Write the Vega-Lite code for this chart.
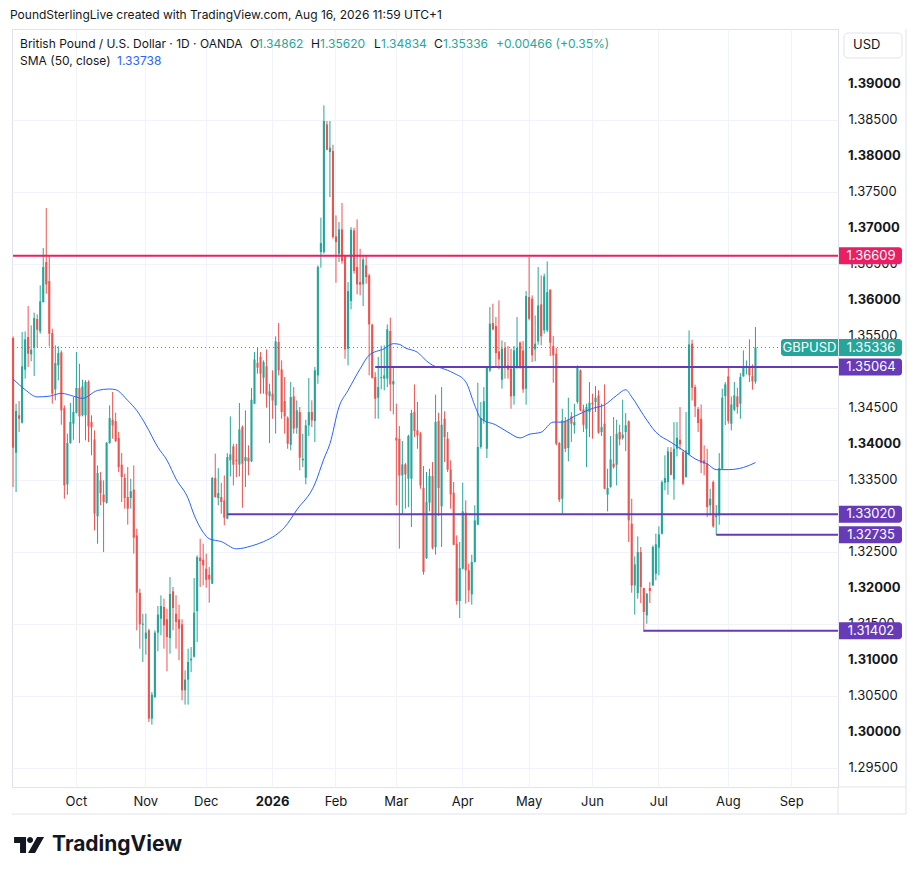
{
"$schema": "https://vega.github.io/schema/vega-lite/v6.json",
"width": 826,
"height": 758,
"padding": {"left": 10, "top": 8, "right": 5, "bottom": 5},
"background": "white",
"title": {"text": "PoundSterlingLive created with TradingView.com, Aug 16, 2026 11:59 UTC+1", "anchor": "start", "frame": "group", "fontSize": 12, "fontWeight": "normal", "color": "#131722", "offset": 7, "dx": -2},
"config": {"font": "Inter", "view": {"stroke": "#e0e3eb", "strokeWidth": 1}},
"datasets": {
"candles": [
{"date":"2025-09-02","open":1.35468,"high":1.35491,"low":1.33398,"close":1.33945,"sma":1.3490},
{"date":"2025-09-03","open":1.33875,"high":1.34556,"low":1.33329,"close":1.34454},
{"date":"2025-09-04","open":1.34394,"high":1.34593,"low":1.34162,"close":1.34347},
{"date":"2025-09-05","open":1.34292,"high":1.35551,"low":1.34280,"close":1.35074},
{"date":"2025-09-08","open":1.35028,"high":1.35560,"low":1.34903,"close":1.35449,"sma":1.3475},
{"date":"2025-09-09","open":1.35482,"high":1.35912,"low":1.35065,"close":1.35250},
{"date":"2025-09-10","open":1.35241,"high":1.35644,"low":1.35144,"close":1.35306},
{"date":"2025-09-11","open":1.35333,"high":1.35820,"low":1.34940,"close":1.35745},
{"date":"2025-09-12","open":1.35732,"high":1.35796,"low":1.35343,"close":1.35583,"sma":1.3465},
{"date":"2025-09-15","open":1.35560,"high":1.36199,"low":1.35528,"close":1.35977},
{"date":"2025-09-16","open":1.35968,"high":1.36718,"low":1.35960,"close":1.36454},
{"date":"2025-09-17","open":1.36523,"high":1.37273,"low":1.36083,"close":1.36213},
{"date":"2025-09-18","open":1.36259,"high":1.36607,"low":1.35352,"close":1.35528,"sma":1.3466},
{"date":"2025-09-19","open":1.35537,"high":1.35597,"low":1.34556,"close":1.34695},
{"date":"2025-09-22","open":1.34755,"high":1.35366,"low":1.34602,"close":1.35120},
{"date":"2025-09-23","open":1.35088,"high":1.35352,"low":1.34880,"close":1.35259},
{"date":"2025-09-24","open":1.35269,"high":1.35296,"low":1.34264,"close":1.34463,"sma":1.3470},
{"date":"2025-09-25","open":1.34495,"high":1.34532,"low":1.33236,"close":1.33421},
{"date":"2025-09-26","open":1.33435,"high":1.34139,"low":1.33292,"close":1.34009},
{"date":"2025-09-29","open":1.34009,"high":1.34565,"low":1.34000,"close":1.34301},
{"date":"2025-09-30","open":1.34278,"high":1.34648,"low":1.34056,"close":1.34440,"sma":1.3466},
{"date":"2025-10-01","open":1.34431,"high":1.35273,"low":1.34420,"close":1.34773},
{"date":"2025-10-02","open":1.34773,"high":1.35111,"low":1.34009,"close":1.34380},
{"date":"2025-10-03","open":1.34394,"high":1.34889,"low":1.34380,"close":1.34796,"sma":1.3463},
{"date":"2025-10-06","open":1.34394,"high":1.34880,"low":1.34046,"close":1.34857},
{"date":"2025-10-07","open":1.34857,"high":1.34880,"low":1.34023,"close":1.34241},
{"date":"2025-10-08","open":1.34301,"high":1.34394,"low":1.33838,"close":1.34231},
{"date":"2025-10-09","open":1.34060,"high":1.34185,"low":1.32796,"close":1.33028},
{"date":"2025-10-10","open":1.32991,"high":1.33699,"low":1.32611,"close":1.33593,"sma":1.3474},
{"date":"2025-10-13","open":1.33491,"high":1.33606,"low":1.33144,"close":1.33315},
{"date":"2025-10-14","open":1.33292,"high":1.33491,"low":1.32495,"close":1.33190},
{"date":"2025-10-15","open":1.33181,"high":1.34023,"low":1.33167,"close":1.34014},
{"date":"2025-10-16","open":1.34009,"high":1.34532,"low":1.34000,"close":1.34356,"sma":1.3476},
{"date":"2025-10-17","open":1.34333,"high":1.34718,"low":1.34069,"close":1.34255},
{"date":"2025-10-20","open":1.34315,"high":1.34431,"low":1.34024,"close":1.34038,"sma":1.3475},
{"date":"2025-10-21","open":1.34079,"high":1.34163,"low":1.33607,"close":1.33676},
{"date":"2025-10-22","open":1.33709,"high":1.33871,"low":1.33190,"close":1.33538},
{"date":"2025-10-23","open":1.33524,"high":1.33584,"low":1.33098,"close":1.33246},
{"date":"2025-10-24","open":1.33260,"high":1.33676,"low":1.32876,"close":1.33098,"sma":1.3460},
{"date":"2025-10-27","open":1.33246,"high":1.33514,"low":1.33098,"close":1.33338},
{"date":"2025-10-28","open":1.33362,"high":1.33699,"low":1.32473,"close":1.32695},
{"date":"2025-10-29","open":1.32727,"high":1.32820,"low":1.31408,"close":1.31931,"sma":1.3446},
{"date":"2025-10-30","open":1.31931,"high":1.31987,"low":1.31153,"close":1.31491},
{"date":"2025-10-31","open":1.31486,"high":1.31639,"low":1.30968,"close":1.31500},
{"date":"2025-11-03","open":1.31292,"high":1.31639,"low":1.31070,"close":1.31376,"sma":1.3426},
{"date":"2025-11-04","open":1.31408,"high":1.31431,"low":1.30135,"close":1.30181},
{"date":"2025-11-05","open":1.30181,"high":1.30551,"low":1.30098,"close":1.30514},
{"date":"2025-11-06","open":1.30482,"high":1.31408,"low":1.30468,"close":1.31376},
{"date":"2025-11-07","open":1.31376,"high":1.31746,"low":1.31116,"close":1.31626,"sma":1.3395},
{"date":"2025-11-10","open":1.31570,"high":1.31894,"low":1.31338,"close":1.31746},
{"date":"2025-11-11","open":1.31732,"high":1.31848,"low":1.31153,"close":1.31477},
{"date":"2025-11-12","open":1.31561,"high":1.31709,"low":1.30838,"close":1.31315,"sma":1.3377},
{"date":"2025-11-13","open":1.31301,"high":1.32149,"low":1.31084,"close":1.31913},
{"date":"2025-11-14","open":1.31950,"high":1.32010,"low":1.31408,"close":1.31718},
{"date":"2025-11-17","open":1.31639,"high":1.31894,"low":1.31153,"close":1.31524,"sma":1.3351},
{"date":"2025-11-18","open":1.31561,"high":1.31764,"low":1.30991,"close":1.31431},
{"date":"2025-11-19","open":1.31491,"high":1.31561,"low":1.30436,"close":1.30575},
{"date":"2025-11-20","open":1.30575,"high":1.30852,"low":1.30376,"close":1.30723},
{"date":"2025-11-21","open":1.30723,"high":1.31153,"low":1.30376,"close":1.30968,"sma":1.3324},
{"date":"2025-11-24","open":1.30991,"high":1.31176,"low":1.30829,"close":1.31014},
{"date":"2025-11-25","open":1.31042,"high":1.32135,"low":1.31030,"close":1.31653,"sma":1.3301},
{"date":"2025-11-26","open":1.31676,"high":1.32449,"low":1.31246,"close":1.32426},
{"date":"2025-11-27","open":1.32417,"high":1.32681,"low":1.32010,"close":1.32370},
{"date":"2025-11-28","open":1.32389,"high":1.32612,"low":1.32033,"close":1.32311,"sma":1.3277},
{"date":"2025-12-01","open":1.32264,"high":1.32473,"low":1.32000,"close":1.32110},
{"date":"2025-12-02","open":1.32181,"high":1.32287,"low":1.31792,"close":1.32116,"sma":1.3268},
{"date":"2025-12-03","open":1.32056,"high":1.33538,"low":1.32050,"close":1.33524},
{"date":"2025-12-04","open":1.33524,"high":1.33862,"low":1.33250,"close":1.33260},
{"date":"2025-12-05","open":1.33246,"high":1.33660,"low":1.33144,"close":1.33315},
{"date":"2025-12-08","open":1.33259,"high":1.33454,"low":1.33028,"close":1.33190,"sma":1.3264},
{"date":"2025-12-09","open":1.33213,"high":1.33560,"low":1.32866,"close":1.32972},
{"date":"2025-12-10","open":1.32958,"high":1.33870,"low":1.32950,"close":1.33815},
{"date":"2025-12-11","open":1.33769,"high":1.34380,"low":1.33546,"close":1.33852},
{"date":"2025-12-12","open":1.33963,"high":1.34000,"low":1.33421,"close":1.33709},
{"date":"2025-12-15","open":1.33778,"high":1.34000,"low":1.33537,"close":1.33760,"sma":1.3254},
{"date":"2025-12-16","open":1.33709,"high":1.34565,"low":1.33546,"close":1.34199},
{"date":"2025-12-17","open":1.34232,"high":1.34255,"low":1.33111,"close":1.33722},
{"date":"2025-12-18","open":1.33759,"high":1.34463,"low":1.33398,"close":1.33815},
{"date":"2025-12-19","open":1.33806,"high":1.33977,"low":1.33560,"close":1.33755},
{"date":"2025-12-22","open":1.33755,"high":1.34773,"low":1.33745,"close":1.34611,"sma":1.3258},
{"date":"2025-12-23","open":1.34556,"high":1.35273,"low":1.34550,"close":1.35171},
{"date":"2025-12-24","open":1.35125,"high":1.35343,"low":1.34972,"close":1.35056},
{"date":"2025-12-26","open":1.35204,"high":1.35273,"low":1.34695,"close":1.34972},
{"date":"2025-12-29","open":1.34917,"high":1.35157,"low":1.34695,"close":1.35134,"sma":1.3264},
{"date":"2025-12-30","open":1.35074,"high":1.35310,"low":1.34500,"close":1.34681},
{"date":"2025-12-31","open":1.34658,"high":1.34833,"low":1.34009,"close":1.34727},
{"date":"2026-01-02","open":1.34695,"high":1.35019,"low":1.34347,"close":1.34600},
{"date":"2026-01-05","open":1.34533,"high":1.35490,"low":1.34139,"close":1.35421,"sma":1.3273},
{"date":"2026-01-06","open":1.35412,"high":1.35676,"low":1.34949,"close":1.35019},
{"date":"2026-01-07","open":1.35032,"high":1.35158,"low":1.34347,"close":1.34440},
{"date":"2026-01-08","open":1.34593,"high":1.34926,"low":1.34139,"close":1.34380,"sma":1.3284},
{"date":"2026-01-09","open":1.34361,"high":1.34380,"low":1.33930,"close":1.34000},
{"date":"2026-01-12","open":1.33986,"high":1.34857,"low":1.33908,"close":1.34648},
{"date":"2026-01-13","open":1.34658,"high":1.34787,"low":1.34139,"close":1.34209},
{"date":"2026-01-14","open":1.34222,"high":1.34602,"low":1.34139,"close":1.34463,"sma":1.3308},
{"date":"2026-01-15","open":1.34440,"high":1.34509,"low":1.33630,"close":1.33806},
{"date":"2026-01-16","open":1.33769,"high":1.34139,"low":1.33676,"close":1.33792},
{"date":"2026-01-19","open":1.33528,"high":1.34333,"low":1.33435,"close":1.34255},
{"date":"2026-01-20","open":1.34255,"high":1.34912,"low":1.34107,"close":1.34440},
{"date":"2026-01-21","open":1.34440,"high":1.34602,"low":1.34232,"close":1.34324},
{"date":"2026-01-22","open":1.34315,"high":1.35065,"low":1.34023,"close":1.35019,"sma":1.3344},
{"date":"2026-01-23","open":1.34949,"high":1.36477,"low":1.34833,"close":1.36454},
{"date":"2026-01-26","open":1.36662,"high":1.37139,"low":1.36445,"close":1.36787},
{"date":"2026-01-27","open":1.36662,"high":1.38699,"low":1.36639,"close":1.38482,"sma":1.3379},
{"date":"2026-01-28","open":1.38435,"high":1.38482,"low":1.38074,"close":1.38084},
{"date":"2026-01-29","open":1.38051,"high":1.38482,"low":1.37426,"close":1.38111,"sma":1.3400},
{"date":"2026-01-30","open":1.38065,"high":1.38153,"low":1.36847,"close":1.36871},
{"date":"2026-02-02","open":1.36880,"high":1.37171,"low":1.36236,"close":1.36801},
{"date":"2026-02-03","open":1.36639,"high":1.37080,"low":1.36523,"close":1.36977,"sma":1.3451},
{"date":"2026-02-04","open":1.36977,"high":1.37343,"low":1.36500,"close":1.36537},
{"date":"2026-02-05","open":1.36602,"high":1.36616,"low":1.35181,"close":1.35310},
{"date":"2026-02-06","open":1.35320,"high":1.36245,"low":1.35088,"close":1.36120,"sma":1.3474},
{"date":"2026-02-09","open":1.35982,"high":1.37009,"low":1.35866,"close":1.36972},
{"date":"2026-02-10","open":1.36963,"high":1.37000,"low":1.36361,"close":1.36398},
{"date":"2026-02-11","open":1.36454,"high":1.37116,"low":1.36074,"close":1.36213},
{"date":"2026-02-12","open":1.36245,"high":1.36708,"low":1.36060,"close":1.36208,"sma":1.3504},
{"date":"2026-02-13","open":1.36213,"high":1.36602,"low":1.35912,"close":1.36560},
{"date":"2026-02-16","open":1.36477,"high":1.36602,"low":1.36222,"close":1.36315},
{"date":"2026-02-17","open":1.36338,"high":1.36361,"low":1.34949,"close":1.35657,"sma":1.3523},
{"date":"2026-02-18","open":1.35653,"high":1.35667,"low":1.34903,"close":1.34917},
{"date":"2026-02-19","open":1.34926,"high":1.34995,"low":1.34347,"close":1.34625},
{"date":"2026-02-20","open":1.34639,"high":1.35204,"low":1.34347,"close":1.34787},
{"date":"2026-02-23","open":1.34912,"high":1.35361,"low":1.34755,"close":1.34926},
{"date":"2026-02-24","open":1.34903,"high":1.35366,"low":1.34741,"close":1.34949,"sma":1.3532},
{"date":"2026-02-25","open":1.34903,"high":1.35657,"low":1.34787,"close":1.35588},
{"date":"2026-02-26","open":1.35565,"high":1.35750,"low":1.34454,"close":1.34824},
{"date":"2026-02-27","open":1.34824,"high":1.35065,"low":1.34407,"close":1.34870,"sma":1.3539},
{"date":"2026-03-02","open":1.34083,"high":1.34556,"low":1.33144,"close":1.34046},
{"date":"2026-03-03","open":1.34069,"high":1.34245,"low":1.32542,"close":1.33560,"sma":1.3538},
{"date":"2026-03-04","open":1.33560,"high":1.34037,"low":1.33028,"close":1.33713},
{"date":"2026-03-05","open":1.33713,"high":1.33731,"low":1.33097,"close":1.33574,"sma":1.3533},
{"date":"2026-03-06","open":1.33514,"high":1.34125,"low":1.33120,"close":1.34107},
{"date":"2026-03-09","open":1.33514,"high":1.34472,"low":1.32843,"close":1.34426},
{"date":"2026-03-10","open":1.34440,"high":1.34824,"low":1.34093,"close":1.34176},
{"date":"2026-03-11","open":1.34185,"high":1.34579,"low":1.33930,"close":1.34116,"sma":1.3527},
{"date":"2026-03-12","open":1.34139,"high":1.34162,"low":1.33375,"close":1.33421},
{"date":"2026-03-13","open":1.33384,"high":1.33690,"low":1.32181,"close":1.32218},
{"date":"2026-03-16","open":1.32412,"high":1.33607,"low":1.32400,"close":1.33190,"sma":1.3515},
{"date":"2026-03-17","open":1.33181,"high":1.33653,"low":1.33060,"close":1.33551},
{"date":"2026-03-18","open":1.33551,"high":1.33745,"low":1.32532,"close":1.32556,"sma":1.3509},
{"date":"2026-03-19","open":1.32565,"high":1.34681,"low":1.32458,"close":1.34301},
{"date":"2026-03-20","open":1.34315,"high":1.34431,"low":1.32995,"close":1.33384},
{"date":"2026-03-23","open":1.33130,"high":1.34787,"low":1.32565,"close":1.34264,"sma":1.3505},
{"date":"2026-03-24","open":1.34347,"high":1.34450,"low":1.33745,"close":1.34093},
{"date":"2026-03-25","open":1.34070,"high":1.34162,"low":1.33607,"close":1.33639},
{"date":"2026-03-26","open":1.33644,"high":1.33769,"low":1.33097,"close":1.33296},
{"date":"2026-03-27","open":1.33319,"high":1.33468,"low":1.32590,"close":1.32597,"sma":1.3498},
{"date":"2026-03-30","open":1.32611,"high":1.32727,"low":1.31764,"close":1.31815},
{"date":"2026-03-31","open":1.31815,"high":1.32634,"low":1.31579,"close":1.32273},
{"date":"2026-04-01","open":1.32264,"high":1.33458,"low":1.32255,"close":1.33060},
{"date":"2026-04-02","open":1.33042,"high":1.33213,"low":1.31778,"close":1.32241,"sma":1.3486},
{"date":"2026-04-03","open":1.32241,"high":1.32334,"low":1.31801,"close":1.31963},
{"date":"2026-04-06","open":1.31908,"high":1.32458,"low":1.31764,"close":1.32357},
{"date":"2026-04-07","open":1.32357,"high":1.33144,"low":1.32350,"close":1.32935,"sma":1.3453},
{"date":"2026-04-08","open":1.32875,"high":1.34847,"low":1.32870,"close":1.33954},
{"date":"2026-04-09","open":1.33954,"high":1.34579,"low":1.33931,"close":1.34357,"sma":1.3435},
{"date":"2026-04-10","open":1.34324,"high":1.34787,"low":1.34278,"close":1.34588},
{"date":"2026-04-13","open":1.33931,"high":1.35079,"low":1.33801,"close":1.35051},
{"date":"2026-04-14","open":1.35019,"high":1.35898,"low":1.34996,"close":1.35667},
{"date":"2026-04-15","open":1.35676,"high":1.35944,"low":1.35574,"close":1.35588},
{"date":"2026-04-16","open":1.35634,"high":1.35759,"low":1.35079,"close":1.35259,"sma":1.3426},
{"date":"2026-04-17","open":1.35282,"high":1.35990,"low":1.35033,"close":1.35171},
{"date":"2026-04-20","open":1.34889,"high":1.35435,"low":1.34764,"close":1.35320},
{"date":"2026-04-21","open":1.35329,"high":1.35412,"low":1.34903,"close":1.35051},
{"date":"2026-04-22","open":1.35088,"high":1.35357,"low":1.34903,"close":1.35028,"sma":1.3416},
{"date":"2026-04-23","open":1.35042,"high":1.35320,"low":1.34486,"close":1.34657},
{"date":"2026-04-24","open":1.34662,"high":1.35357,"low":1.34542,"close":1.35296},
{"date":"2026-04-27","open":1.35051,"high":1.35759,"low":1.35042,"close":1.35329},
{"date":"2026-04-28","open":1.35403,"high":1.35421,"low":1.35042,"close":1.35051,"sma":1.3408},
{"date":"2026-04-29","open":1.35296,"high":1.35426,"low":1.34708,"close":1.34755},
{"date":"2026-04-30","open":1.34764,"high":1.36120,"low":1.34542,"close":1.36050},
{"date":"2026-05-01","open":1.36037,"high":1.36593,"low":1.35713,"close":1.35736,"sma":1.3413},
{"date":"2026-05-04","open":1.36014,"high":1.36060,"low":1.35134,"close":1.35227},
{"date":"2026-05-05","open":1.35310,"high":1.35782,"low":1.35144,"close":1.35389},
{"date":"2026-05-06","open":1.35421,"high":1.36454,"low":1.35375,"close":1.35921},
{"date":"2026-05-07","open":1.35935,"high":1.36338,"low":1.35366,"close":1.35491,"sma":1.3416},
{"date":"2026-05-08","open":1.35574,"high":1.36361,"low":1.35528,"close":1.36324},
{"date":"2026-05-11","open":1.35574,"high":1.36532,"low":1.35551,"close":1.36106},
{"date":"2026-05-12","open":1.36139,"high":1.36144,"low":1.35218,"close":1.35403},
{"date":"2026-05-13","open":1.35356,"high":1.35495,"low":1.34847,"close":1.35227,"sma":1.3430},
{"date":"2026-05-14","open":1.35250,"high":1.35329,"low":1.33977,"close":1.34000},
{"date":"2026-05-15","open":1.34009,"high":1.34023,"low":1.33190,"close":1.33222},
{"date":"2026-05-18","open":1.33236,"high":1.34486,"low":1.33028,"close":1.34324,"sma":1.3430},
{"date":"2026-05-19","open":1.34310,"high":1.34370,"low":1.33884,"close":1.33931},
{"date":"2026-05-20","open":1.33940,"high":1.34639,"low":1.33755,"close":1.34338},
{"date":"2026-05-21","open":1.34380,"high":1.34440,"low":1.34023,"close":1.34278},
{"date":"2026-05-22","open":1.34255,"high":1.34556,"low":1.34139,"close":1.34301,"sma":1.3438},
{"date":"2026-05-25","open":1.34579,"high":1.35088,"low":1.34556,"close":1.35065},
{"date":"2026-05-26","open":1.35019,"high":1.35032,"low":1.34449,"close":1.34463},
{"date":"2026-05-27","open":1.34477,"high":1.34542,"low":1.34162,"close":1.34264},
{"date":"2026-05-28","open":1.34208,"high":1.34556,"low":1.33676,"close":1.34509},
{"date":"2026-05-29","open":1.34440,"high":1.34856,"low":1.34093,"close":1.34569},
{"date":"2026-06-01","open":1.34569,"high":1.34694,"low":1.34070,"close":1.34546,"sma":1.3449},
{"date":"2026-06-02","open":1.34579,"high":1.34801,"low":1.34440,"close":1.34639},
{"date":"2026-06-03","open":1.34671,"high":1.34740,"low":1.34139,"close":1.34153},
{"date":"2026-06-04","open":1.34162,"high":1.34556,"low":1.34107,"close":1.34231},
{"date":"2026-06-05","open":1.34278,"high":1.34824,"low":1.33366,"close":1.33375,"sma":1.3454},
{"date":"2026-06-08","open":1.33292,"high":1.33653,"low":1.33060,"close":1.33384},
{"date":"2026-06-09","open":1.33398,"high":1.34106,"low":1.33390,"close":1.33782},
{"date":"2026-06-10","open":1.33722,"high":1.34370,"low":1.33653,"close":1.33676},
{"date":"2026-06-11","open":1.33708,"high":1.34333,"low":1.33421,"close":1.34139,"sma":1.3467},
{"date":"2026-06-12","open":1.34162,"high":1.34264,"low":1.33977,"close":1.34060},
{"date":"2026-06-15","open":1.34079,"high":1.34611,"low":1.34056,"close":1.34125},
{"date":"2026-06-16","open":1.34162,"high":1.34426,"low":1.33898,"close":1.34255,"sma":1.3475},
{"date":"2026-06-17","open":1.34310,"high":1.34324,"low":1.32634,"close":1.32935},
{"date":"2026-06-18","open":1.32889,"high":1.33236,"low":1.31931,"close":1.32032,"sma":1.3465},
{"date":"2026-06-19","open":1.32032,"high":1.32435,"low":1.31625,"close":1.32324},
{"date":"2026-06-22","open":1.31926,"high":1.32713,"low":1.31847,"close":1.32495},
{"date":"2026-06-23","open":1.32495,"high":1.32565,"low":1.31787,"close":1.32009},
{"date":"2026-06-24","open":1.31995,"high":1.32000,"low":1.31384,"close":1.31662,"sma":1.3439},
{"date":"2026-06-25","open":1.31616,"high":1.31926,"low":1.31500,"close":1.31916},
{"date":"2026-06-26","open":1.31995,"high":1.32078,"low":1.31787,"close":1.31953},
{"date":"2026-06-29","open":1.32032,"high":1.32588,"low":1.32025,"close":1.32565},
{"date":"2026-06-30","open":1.32194,"high":1.32750,"low":1.32102,"close":1.32602,"sma":1.3416},
{"date":"2026-07-01","open":1.32556,"high":1.32852,"low":1.32171,"close":1.32741},
{"date":"2026-07-02","open":1.32750,"high":1.33490,"low":1.32740,"close":1.33467},
{"date":"2026-07-03","open":1.33458,"high":1.33838,"low":1.33352,"close":1.33523},
{"date":"2026-07-06","open":1.33467,"high":1.33953,"low":1.33291,"close":1.33893},
{"date":"2026-07-07","open":1.33884,"high":1.33953,"low":1.33560,"close":1.33569,"sma":1.3402},
{"date":"2026-07-08","open":1.33504,"high":1.34300,"low":1.33222,"close":1.33930},
{"date":"2026-07-09","open":1.33930,"high":1.34300,"low":1.33824,"close":1.34083},
{"date":"2026-07-10","open":1.34055,"high":1.34509,"low":1.33916,"close":1.33990},
{"date":"2026-07-13","open":1.33884,"high":1.33916,"low":1.33421,"close":1.33444,"sma":1.3391},
{"date":"2026-07-14","open":1.33537,"high":1.34440,"low":1.33530,"close":1.33907},
{"date":"2026-07-15","open":1.33852,"high":1.35574,"low":1.33838,"close":1.35379},
{"date":"2026-07-16","open":1.35389,"high":1.35444,"low":1.34600,"close":1.34778},
{"date":"2026-07-17","open":1.34787,"high":1.34820,"low":1.34370,"close":1.34518,"sma":1.3379},
{"date":"2026-07-20","open":1.34481,"high":1.34509,"low":1.34162,"close":1.34287},
{"date":"2026-07-21","open":1.34347,"high":1.34546,"low":1.33592,"close":1.33731},
{"date":"2026-07-22","open":1.33768,"high":1.33977,"low":1.33560,"close":1.33722},
{"date":"2026-07-23","open":1.33722,"high":1.33930,"low":1.32981,"close":1.33120,"sma":1.3372},
{"date":"2026-07-24","open":1.33143,"high":1.33375,"low":1.33004,"close":1.33236},
{"date":"2026-07-27","open":1.33467,"high":1.33490,"low":1.32833,"close":1.32852},
{"date":"2026-07-28","open":1.32981,"high":1.33148,"low":1.32735,"close":1.33004,"sma":1.3364},
{"date":"2026-07-29","open":1.33004,"high":1.33870,"low":1.32875,"close":1.33662},
{"date":"2026-07-30","open":1.33653,"high":1.34764,"low":1.33643,"close":1.34639},
{"date":"2026-07-31","open":1.34662,"high":1.34856,"low":1.34259,"close":1.34824},
{"date":"2026-08-03","open":1.34935,"high":1.35065,"low":1.34278,"close":1.34315,"sma":1.3364},
{"date":"2026-08-04","open":1.34278,"high":1.34657,"low":1.34185,"close":1.34546},
{"date":"2026-08-05","open":1.34472,"high":1.34856,"low":1.34453,"close":1.34671},
{"date":"2026-08-06","open":1.34657,"high":1.34778,"low":1.34416,"close":1.34509},
{"date":"2026-08-07","open":1.34555,"high":1.34981,"low":1.34347,"close":1.34926},
{"date":"2026-08-10","open":1.34935,"high":1.35296,"low":1.34930,"close":1.35074,"sma":1.3367},
{"date":"2026-08-11","open":1.35055,"high":1.35157,"low":1.34963,"close":1.35079},
{"date":"2026-08-12","open":1.35079,"high":1.35449,"low":1.34856,"close":1.34949},
{"date":"2026-08-13","open":1.34940,"high":1.35102,"low":1.34750,"close":1.34866},
{"date":"2026-08-14","open":1.34862,"high":1.35620,"low":1.34834,"close":1.35336,"sma":1.33738}
],
"levels": [
{"date":"2025-09-02","price":1.36609,"kind":"major"},
{"date":"2026-02-19","price":1.35064,"kind":"minor"},
{"date":"2025-12-10","price":1.33020,"kind":"minor"},
{"date":"2026-07-28","price":1.32735,"kind":"minor"},
{"date":"2026-06-24","price":1.31402,"kind":"minor"}
],
"tags": [
{"price":1.36609,"kind":"major","symbol":""},
{"price":1.35336,"kind":"last","symbol":"GBPUSD"},
{"price":1.35064,"kind":"minor","symbol":""},
{"price":1.33020,"kind":"minor","symbol":""},
{"price":1.32735,"kind":"minor","symbol":""},
{"price":1.31402,"kind":"minor","symbol":""}
],
"roundPrices": [
{"price":1.30},{"price":1.31},{"price":1.32},{"price":1.34},{"price":1.36},{"price":1.37},{"price":1.38},{"price":1.39}
]
},
"layer": [
{
"data": {"name": "candles"},
"mark": {"type": "rule", "strokeWidth": 1},
"encoding": {
"x": {"field": "date", "type": "ordinal",
"scale": {"domain": {"unionWith": ["2026-08-17","2026-08-18","2026-08-19","2026-08-20","2026-08-21","2026-08-24","2026-08-25","2026-08-26","2026-08-27","2026-08-28","2026-08-31","2026-09-01","2026-09-02","2026-09-03","2026-09-04","2026-09-07","2026-09-08","2026-09-09","2026-09-10","2026-09-11","2026-09-14","2026-09-15","2026-09-16","2026-09-17","2026-09-18","2026-09-21","2026-09-22"]}, "paddingInner": 0.3, "paddingOuter": 0},
"axis": {"values": ["2025-10-01","2025-11-03","2025-12-01","2026-01-02","2026-02-02","2026-03-02","2026-04-01","2026-05-01","2026-06-01","2026-07-01","2026-08-03","2026-09-01"],
"labelExpr": "datum.value == '2026-01-02' ? '2026' : utcFormat(toDate(datum.value), '%b')",
"labelFontWeight": {"condition": {"test": "datum.value == '2026-01-02'", "value": "bold"}, "value": "normal"},
"labelAngle": 0, "labelFontSize": 13, "labelColor": "#131722", "labelPadding": 8, "labelOverlap": false, "ticks": false, "tickSize": 0, "domain": false, "grid": true, "gridColor": "#f0f3fa", "bandPosition": 0.5, "title": null}},
"y": {"field": "low", "type": "quantitative",
"scale": {"domain": [1.29232, 1.3976], "nice": false, "zero": false},
"axis": {"orient": "right", "values": [1.295,1.3,1.305,1.31,1.315,1.32,1.325,1.33,1.335,1.34,1.345,1.35,1.355,1.36,1.365,1.37,1.375,1.38,1.385,1.39],
"labelExpr": "abs(datum.value * 100 - round(datum.value * 100)) < 0.001 ? '' : format(datum.value, '.5f')",
"labelFontSize": 13, "labelColor": "#131722", "labelPadding": 10, "labelOverlap": false, "labelBound": false, "ticks": false, "tickSize": 0, "domain": false, "grid": true, "gridColor": "#f0f3fa", "title": null}},
"y2": {"field": "high"},
"color": {"condition": {"test": "datum.close >= datum.open", "value": "#26a69a"}, "value": "#ef5350"}
}
},
{
"data": {"name": "roundPrices"},
"mark": {"type": "text", "align": "left", "baseline": "middle", "dx": 10, "fontSize": 13, "fontWeight": "bold", "color": "#131722"},
"encoding": {
"x": {"value": "width"},
"y": {"field": "price", "type": "quantitative", "title": null},
"text": {"field": "price", "type": "quantitative", "format": ".5f"}
}
},
{
"data": {"name": "tags"},
"transform": [{"filter": "datum.kind == 'last'"}],
"mark": {"type": "rule", "color": "#26a69a", "strokeWidth": 1, "strokeDash": [1, 3]},
"encoding": {
"y": {"field": "price", "type": "quantitative", "title": null}
}
},
{
"data": {"name": "candles"},
"mark": {"type": "bar"},
"encoding": {
"x": {"field": "date", "type": "ordinal", "title": null},
"y": {"field": "open", "type": "quantitative", "scale": {"domain": [1.29232, 1.3976], "nice": false, "zero": false}, "title": null},
"y2": {"field": "close"},
"color": {"condition": {"test": "datum.close >= datum.open", "value": "#26a69a"}, "value": "#ef5350"}
}
},
{
"data": {"name": "candles"},
"transform": [{"filter": "isValid(datum.sma)"}],
"mark": {"type": "line", "color": "#2962ff", "strokeWidth": 1, "interpolate": "monotone"},
"encoding": {
"x": {"field": "date", "type": "ordinal", "title": null},
"y": {"field": "sma", "type": "quantitative", "title": null}
}
},
{
"data": {"name": "levels"},
"mark": {"type": "rule", "strokeWidth": 2},
"encoding": {
"x": {"field": "date", "type": "ordinal", "title": null},
"x2": {"value": "width"},
"y": {"field": "price", "type": "quantitative", "title": null},
"color": {"field": "kind", "type": "nominal", "scale": {"domain": ["major", "minor", "last"], "range": ["#e91e63", "#673ab7", "#26a69a"]}, "legend": null}
}
},
{
"data": {"values": [{"part": "frame"}]},
"mark": {"type": "rule", "color": "#e0e3eb", "strokeWidth": 1, "xOffset": 68, "x2Offset": 68, "y2Offset": 27},
"encoding": {"x": {"value": "width"}, "x2": {"value": "width"}, "y": {"datum": 1.3976, "type": "quantitative", "title": null}, "y2": {"datum": 1.29232}}
},
{
"data": {"values": [{"part": "frame"}]},
"mark": {"type": "rule", "color": "#e0e3eb", "strokeWidth": 1, "y2Offset": 27},
"encoding": {"x": {"value": "width"}, "x2": {"value": "width"}, "y": {"datum": 1.29232, "type": "quantitative", "title": null}, "y2": {"datum": 1.29232}}
},
{
"data": {"values": [{"part": "frame"}]},
"mark": {"type": "rule", "color": "#e0e3eb", "strokeWidth": 1, "x2Offset": 68},
"encoding": {"x": {"value": "width"}, "x2": {"value": "width"}, "y": {"datum": 1.29232, "type": "quantitative", "title": null}}
},
{
"data": {"values": [{"part": "frame"}]},
"mark": {"type": "rule", "color": "#e0e3eb", "strokeWidth": 1, "xOffset": -1.5, "x2Offset": 68, "yOffset": 27},
"encoding": {"x": {"datum": "2025-09-02", "type": "ordinal", "title": null}, "x2": {"value": "width"}, "y": {"datum": 1.29232, "type": "quantitative", "title": null}}
},
{
"data": {"name": "tags"},
"mark": {"type": "rect", "xOffset": 1, "x2Offset": 64, "yOffset": -8.5, "y2Offset": 8.5, "cornerRadiusTopRight": 3, "cornerRadiusBottomRight": 3},
"encoding": {
"x": {"value": "width"},
"x2": {"value": "width"},
"y": {"field": "price", "type": "quantitative", "title": null},
"y2": {"field": "price"},
"color": {"field": "kind", "type": "nominal", "legend": null}
}
},
{
"data": {"name": "tags"},
"transform": [{"filter": "datum.kind == 'last'"}],
"mark": {"type": "rect", "xOffset": -57, "x2Offset": 0, "yOffset": -8.5, "y2Offset": 8.5, "cornerRadiusTopLeft": 3, "cornerRadiusBottomLeft": 3, "color": "#26a69a"},
"encoding": {
"x": {"value": "width"},
"x2": {"value": "width"},
"y": {"field": "price", "type": "quantitative", "title": null},
"y2": {"field": "price"}
}
},
{
"data": {"name": "tags"},
"mark": {"type": "text", "align": "center", "baseline": "middle", "dx": 33, "fontSize": 13, "color": "white"},
"encoding": {
"x": {"value": "width"},
"y": {"field": "price", "type": "quantitative", "title": null},
"text": {"field": "price", "type": "quantitative", "format": ".5f"}
}
},
{
"data": {"name": "tags"},
"transform": [{"filter": "datum.kind == 'last'"}],
"mark": {"type": "text", "align": "center", "baseline": "middle", "dx": -28.5, "fontSize": 13, "color": "white"},
"encoding": {
"x": {"value": "width"},
"y": {"field": "price", "type": "quantitative", "title": null},
"text": {"field": "symbol"}
}
},
{
"data": {"values": [{"currency": "USD"}]},
"mark": {"type": "rect", "xOffset": 6, "x2Offset": 64, "fill": "white", "stroke": "#e0e3eb", "cornerRadius": 4},
"encoding": {
"x": {"value": "width"},
"x2": {"value": "width"},
"y": {"datum": 1.39704, "type": "quantitative", "title": null},
"y2": {"datum": 1.39357}
}
},
{
"data": {"values": [{"currency": "USD"}]},
"mark": {"type": "text", "align": "left", "baseline": "middle", "dx": 15, "fontSize": 13, "color": "#131722"},
"encoding": {
"x": {"value": "width"},
"y": {"datum": 1.39535, "type": "quantitative", "title": null},
"text": {"field": "currency"}
}
},
{
"data": {"values": [{"t": "British Pound / U.S. Dollar · 1D · OANDA"}]},
"mark": {"type": "text", "align": "left", "baseline": "middle", "dx": 7, "fontSize": 12, "color": "#131722"},
"encoding": {"x": {"datum": "2025-09-02", "type": "ordinal", "title": null}, "y": {"datum": 1.39551, "type": "quantitative", "title": null}, "text": {"field": "t"}}
},
{
"data": {"values": [{"t": "O"}]},
"mark": {"type": "text", "align": "left", "baseline": "middle", "dx": 237, "fontSize": 12, "color": "#131722"},
"encoding": {"x": {"datum": "2025-09-02", "type": "ordinal", "title": null}, "y": {"datum": 1.39551, "type": "quantitative", "title": null}, "text": {"field": "t"}}
},
{
"data": {"values": [{"t": "1.34862"}]},
"mark": {"type": "text", "align": "left", "baseline": "middle", "dx": 245, "fontSize": 12, "color": "#26a69a"},
"encoding": {"x": {"datum": "2025-09-02", "type": "ordinal", "title": null}, "y": {"datum": 1.39551, "type": "quantitative", "title": null}, "text": {"field": "t"}}
},
{
"data": {"values": [{"t": "H"}]},
"mark": {"type": "text", "align": "left", "baseline": "middle", "dx": 298, "fontSize": 12, "color": "#131722"},
"encoding": {"x": {"datum": "2025-09-02", "type": "ordinal", "title": null}, "y": {"datum": 1.39551, "type": "quantitative", "title": null}, "text": {"field": "t"}}
},
{
"data": {"values": [{"t": "1.35620"}]},
"mark": {"type": "text", "align": "left", "baseline": "middle", "dx": 307, "fontSize": 12, "color": "#26a69a"},
"encoding": {"x": {"datum": "2025-09-02", "type": "ordinal", "title": null}, "y": {"datum": 1.39551, "type": "quantitative", "title": null}, "text": {"field": "t"}}
},
{
"data": {"values": [{"t": "L"}]},
"mark": {"type": "text", "align": "left", "baseline": "middle", "dx": 361, "fontSize": 12, "color": "#131722"},
"encoding": {"x": {"datum": "2025-09-02", "type": "ordinal", "title": null}, "y": {"datum": 1.39551, "type": "quantitative", "title": null}, "text": {"field": "t"}}
},
{
"data": {"values": [{"t": "1.34834"}]},
"mark": {"type": "text", "align": "left", "baseline": "middle", "dx": 368, "fontSize": 12, "color": "#26a69a"},
"encoding": {"x": {"datum": "2025-09-02", "type": "ordinal", "title": null}, "y": {"datum": 1.39551, "type": "quantitative", "title": null}, "text": {"field": "t"}}
},
{
"data": {"values": [{"t": "C"}]},
"mark": {"type": "text", "align": "left", "baseline": "middle", "dx": 421, "fontSize": 12, "color": "#131722"},
"encoding": {"x": {"datum": "2025-09-02", "type": "ordinal", "title": null}, "y": {"datum": 1.39551, "type": "quantitative", "title": null}, "text": {"field": "t"}}
},
{
"data": {"values": [{"t": "1.35336"}]},
"mark": {"type": "text", "align": "left", "baseline": "middle", "dx": 430, "fontSize": 12, "color": "#26a69a"},
"encoding": {"x": {"datum": "2025-09-02", "type": "ordinal", "title": null}, "y": {"datum": 1.39551, "type": "quantitative", "title": null}, "text": {"field": "t"}}
},
{
"data": {"values": [{"t": "+0.00466 (+0.35%)"}]},
"mark": {"type": "text", "align": "left", "baseline": "middle", "dx": 483, "fontSize": 12, "color": "#26a69a"},
"encoding": {"x": {"datum": "2025-09-02", "type": "ordinal", "title": null}, "y": {"datum": 1.39551, "type": "quantitative", "title": null}, "text": {"field": "t"}}
},
{
"data": {"values": [{"t": "SMA (50, close)"}]},
"mark": {"type": "text", "align": "left", "baseline": "middle", "dx": 7, "fontSize": 12, "color": "#131722"},
"encoding": {"x": {"datum": "2025-09-02", "type": "ordinal", "title": null}, "y": {"datum": 1.39315, "type": "quantitative", "title": null}, "text": {"field": "t"}}
},
{
"data": {"values": [{"t": "1.33738"}]},
"mark": {"type": "text", "align": "left", "baseline": "middle", "dx": 104, "fontSize": 12, "color": "#2962ff"},
"encoding": {"x": {"datum": "2025-09-02", "type": "ordinal", "title": null}, "y": {"datum": 1.39315, "type": "quantitative", "title": null}, "text": {"field": "t"}}
},
{
"data": {"values": [{"brand": "TradingView"}]},
"mark": {"type": "point", "shape": "M-1,-0.533H-0.2V0.533H-0.6V-0.133H-1Z M-0.067,0.533L0.4,0.533L1,-0.533L0.533,-0.533Z M0.067,-0.533A0.2,0.2 0 1,1 0.067,-0.133A0.2,0.2 0 1,1 0.067,-0.533Z", "size": 900, "filled": true, "opacity": 1, "color": "#131722", "xOffset": 16, "yOffset": 58},
"encoding": {"x": {"datum": "2025-09-02", "type": "ordinal", "title": null}, "y": {"value": "height"}}
},
{
"data": {"values": [{"brand": "TradingView"}]},
"mark": {"type": "text", "align": "left", "baseline": "middle", "dx": 39, "dy": 58, "fontSize": 21, "fontWeight": "bold", "color": "#131722"},
"encoding": {"x": {"datum": "2025-09-02", "type": "ordinal", "title": null}, "y": {"value": "height"}, "text": {"field": "brand"}}
}
]
}
